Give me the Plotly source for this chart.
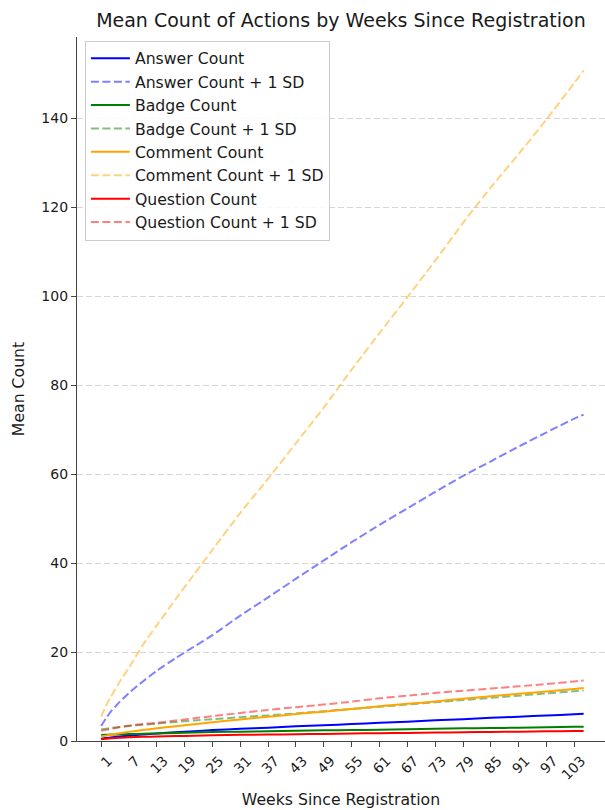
import plotly.graph_objects as go

weeks = [1, 2, 3, 5, 7, 10, 13, 17, 21, 25, 31, 37, 43, 49, 55, 61, 67, 73, 79, 85, 91, 97, 103, 105]

answer_mean = [0.5, 0.65, 0.8, 1.0, 1.2, 1.45, 1.7, 1.95, 2.2, 2.45, 2.75, 3.0, 3.3, 3.55, 3.8, 4.1, 4.35, 4.65, 4.9, 5.2, 5.45, 5.75, 6.0, 6.1]
answer_sd = [3.4, 5.0, 6.5, 8.8, 10.8, 13.4, 15.8, 18.6, 21.2, 23.8, 28.2, 32.3, 36.5, 40.6, 44.7, 48.6, 52.3, 56.0, 59.6, 62.9, 66.2, 69.4, 72.5, 73.4]
badge_mean = [1.35, 1.4, 1.45, 1.5, 1.55, 1.62, 1.7, 1.8, 1.9, 2.0, 2.1, 2.2, 2.3, 2.4, 2.45, 2.55, 2.65, 2.75, 2.85, 2.9, 3.0, 3.1, 3.2, 3.22]
badge_sd = [2.6, 2.75, 2.9, 3.15, 3.4, 3.65, 3.9, 4.25, 4.6, 4.9, 5.35, 5.75, 6.2, 6.7, 7.2, 7.7, 8.2, 8.7, 9.2, 9.7, 10.2, 10.7, 11.2, 11.35]
comment_mean = [1.0, 1.2, 1.4, 1.75, 2.05, 2.45, 2.85, 3.3, 3.75, 4.2, 4.85, 5.45, 6.05, 6.6, 7.2, 7.8, 8.35, 8.9, 9.5, 10.05, 10.6, 11.15, 11.7, 11.9]
comment_sd = [5.5, 7.8, 9.8, 13.3, 16.5, 21.6, 26.0, 31.8, 37.4, 43.0, 51.3, 59.0, 67.0, 75.0, 83.5, 91.7, 99.8, 108.0, 116.5, 124.5, 132.0, 139.8, 148.0, 150.8]
question_mean = [0.4, 0.5, 0.6, 0.72, 0.82, 0.93, 1.0, 1.1, 1.2, 1.3, 1.38, 1.45, 1.52, 1.6, 1.68, 1.75, 1.82, 1.9, 1.97, 2.03, 2.1, 2.17, 2.23, 2.25]
question_sd = [2.3, 2.5, 2.7, 3.1, 3.45, 3.8, 4.1, 4.6, 5.1, 5.6, 6.3, 7.0, 7.6, 8.2, 8.85, 9.6, 10.2, 10.8, 11.3, 11.8, 12.3, 12.8, 13.4, 13.6]

x_ticks = [1, 7, 13, 19, 25, 31, 37, 43, 49, 55, 61, 67, 73, 79, 85, 91, 97, 103]
y_ticks = [0, 20, 40, 60, 80, 100, 120, 140]

series = [
    ("Answer Count", answer_mean, "rgb(0,0,255)", "solid"),
    ("Answer Count + 1 SD", answer_sd, "rgba(0,0,255,0.5)", "8px,3.5px"),
    ("Badge Count", badge_mean, "rgb(0,128,0)", "solid"),
    ("Badge Count + 1 SD", badge_sd, "rgba(0,128,0,0.5)", "8px,3.5px"),
    ("Comment Count", comment_mean, "rgb(255,165,0)", "solid"),
    ("Comment Count + 1 SD", comment_sd, "rgba(255,165,0,0.5)", "8px,3.5px"),
    ("Question Count", question_mean, "rgb(255,0,0)", "solid"),
    ("Question Count + 1 SD", question_sd, "rgba(255,0,0,0.5)", "8px,3.5px"),
]

fig = go.Figure()
for name, vals, color, dash in series:
    fig.add_trace(go.Scatter(
        x=weeks, y=vals, mode="lines", name=name,
        line=dict(color=color, width=2, dash=dash, shape="spline", smoothing=0.6),
    ))

font_family = "DejaVu Sans"
fig.update_layout(
    width=605, height=810,
    margin=dict(l=77, r=0, t=37, b=69),
    paper_bgcolor="white", plot_bgcolor="white",
    font=dict(family=font_family, size=14, color="#1a1a1a"),
    title=dict(text="Mean Count of Actions by Weeks Since Registration",
               x=0.5635, xanchor="center", y=0.975, yanchor="middle",
               font=dict(size=19, color="#1a1a1a")),
    showlegend=True,
    legend=dict(x=0.015, y=0.995, xanchor="left", yanchor="top",
                bgcolor="rgba(255,255,255,0.85)", bordercolor="#cccccc", borderwidth=1,
                font=dict(size=15.7, color="#1a1a1a"), itemwidth=39,
                tracegroupgap=0),
)
fig.update_xaxes(
    range=[-4.2, 109.6], tickmode="array", tickvals=x_ticks,
    ticktext=[str(t) for t in x_ticks], tickangle=-45,
    ticks="outside", ticklen=5, tickwidth=1, tickcolor="#444",
    showline=True, linecolor="#444", linewidth=1.2,
    showgrid=False, zeroline=False, ticklabelshift=7, automargin=False,
    tickfont=dict(size=14),
    title=dict(text="Weeks Since Registration", font=dict(size=15.7), standoff=12),
)
fig.update_yaxes(
    range=[0, 158.3], tickmode="array", tickvals=y_ticks,
    ticks="outside", ticklen=5, tickwidth=1, tickcolor="#444",
    showline=True, linecolor="#444", linewidth=1.2,
    showgrid=True, gridcolor="rgba(180,180,180,0.55)", griddash="6px,3px", gridwidth=1,
    zeroline=False, tickfont=dict(size=14), automargin=False,
    title=dict(text="Mean Count", font=dict(size=15.7), standoff=12),
)
fig.write_html("out.html", config={"displayModeBar": False},
               post_script="document.body.style.margin='0';document.body.style.padding='0';")
